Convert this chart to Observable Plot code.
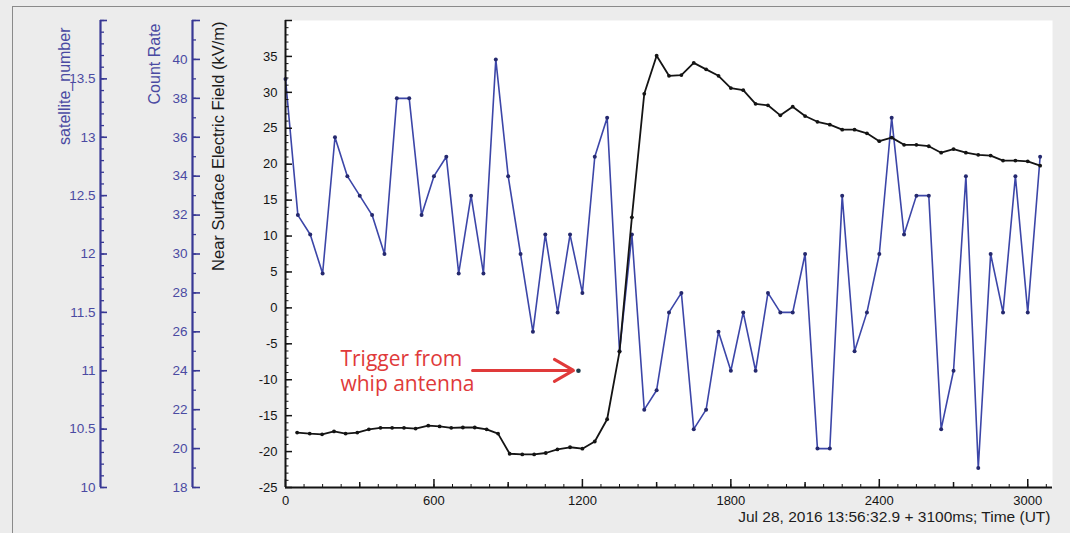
<!DOCTYPE html>
<html><head><meta charset="utf-8">
<script src="https://cdn.jsdelivr.net/npm/d3@7"></script>
<script src="https://cdn.jsdelivr.net/npm/@observablehq/plot@0.6"></script>
<style>
html,body{margin:0;padding:0;background:#ececec;}
#fig{position:relative;width:1070px;height:533px;background:#ececec;overflow:hidden;}
#fig svg{position:absolute;left:0;top:0;}
#border{position:absolute;left:12px;top:6px;width:1070px;height:540px;border-left:1px solid #8a8a8a;border-top:1px solid #8a8a8a;}
</style></head><body><div id="fig"><div id="border"></div></div>
<script>
// ---- data ----
const blueTime = [0,50,100,150,200,250,300,350,400,450,500,550,600,650,700,750,800,850,900,950,
  1000,1050,1100,1150,1200,1250,1300,1350,1400,1450,1500,1550,1600,1650,1700,1750,1800,1850,1900,1950,
  2000,2050,2100,2150,2200,2250,2300,2350,2400,2450,2500,2550,2600,2650,2700,2750,2800,2850,2900,2950,3000,3050];
const blueCount = [39,32,31,29,36,34,33,32,30,38,38,32,34,35,29,33,29,40,34,30,
  26,31,27,31,28,35,37,25,31,22,23,27,28,21,22,26,24,27,24,28,
  27,27,30,20,20,33,25,27,30,37,31,33,33,21,24,34,19,30,27,34,27,35];
const blackTime = [47,98,148,196,243,290,337,384,431,479,526,577,623,670,717,765,813,859,906,957,1005,1052,1099,
  1150,1200,1250,1300,1350,1400,1450,1500,1550,1600,1650,1700,1750,1800,1850,1900,1950,
  2000,2050,2100,2150,2200,2250,2300,2350,2400,2450,2500,2550,2600,2650,2700,2750,2800,2850,2900,2950,3000,3050];
const blackField = [-17.35,-17.5,-17.6,-17.2,-17.5,-17.35,-16.9,-16.7,-16.7,-16.7,-16.8,-16.4,-16.5,-16.7,-16.65,-16.65,-16.9,-17.5,-20.3,-20.4,-20.4,-20.2,-19.7,
  -19.4,-19.6,-18.6,-15.5,-6.1,12.6,29.8,35.1,32.3,32.4,34.1,33.2,32.3,30.6,30.3,28.4,28.2,
  26.8,28.0,26.7,25.9,25.5,24.8,24.8,24.3,23.2,23.7,22.7,22.7,22.5,21.6,22.1,21.6,21.3,21.2,20.5,20.5,20.4,19.8];
const triggerTime = [1184];
const triggerCount = [24];

const xTickLabels = [0,600,1200,1800,2400,3000];
const xMidTicks = [300,900,1500,2100,2700];
const fieldTickLabels = [-25,-20,-15,-10,-5,0,5,10,15,20,25,30,35];
const countTickLabels = [18,20,22,24,26,28,30,32,34,36,38,40];
const satTickLabels = [10,10.5,11,11.5,12,12.5,13,13.5];

const annotationLine1 = ["Trigger from"];
const annotationLine2 = ["whip antenna"];
const annotationTime = [222];
const annotationField1 = [-7.1];
const annotationField2 = [-10.7];
const arrowStart = [756];
const arrowEnd = [1164];
const arrowField = [-8.7];

const xTitle = "Jul 28, 2016 13:56:32.9 + 3100ms; Time (UT)";
const fieldTitle = "Near Surface Electric Field (kV/m)";
const countTitle = "Count Rate";
const satTitle = "satellite_number";

// ---- layout ----
const W = 1070, H = 533, L = 285, R = 1052, T = 20, B = 487;
const FW = R - L, FH = B - T;
const timeDomain = [0, 3100], fieldDomain = [-25, 40], countDomain = [18, 42], satDomain = [10, 14];
const AX = "#383894", AXT = "#4a4aa2", BLUE = "#3c46a8", BLUE_DOT = "#25296e", INK = "#141414", RED = "#e03a3a";
const fmt = d => String(d);

function layer(marginLeft, opts) {
  return Plot.plot({
    width: W, height: H, marginLeft, marginRight: W - R, marginTop: T, marginBottom: H - B,
    style: {background: "transparent", fontFamily: "'Liberation Sans', Arial, sans-serif", fontSize: "13px", overflow: "visible"},
    ...opts
  });
}

const blue = blueTime.map((t, i) => ({t, c: blueCount[i]}));
const black = blackTime.map((t, i) => ({t, e: blackField[i]}));
const trigger = triggerTime.map((t, i) => ({t, c: triggerCount[i]}));
const annotation = annotationLine1.map((s, i) => ({s, t: annotationTime[i], e: annotationField1[i]}))
  .concat(annotationLine2.map((s, i) => ({s, t: annotationTime[i], e: annotationField2[i]})));
const arrows = arrowStart.map((t1, i) => ({t1, t2: arrowEnd[i], e: arrowField[i]}));

const fig = document.getElementById("fig");

// count-rate data layer (bottom, with white plot area)
fig.appendChild(layer(L, {
  x: {domain: timeDomain, axis: null},
  y: {domain: countDomain, axis: null},
  marks: [
    Plot.frame({fill: "white", stroke: "none"}),
    Plot.line(blue, {x: "t", y: "c", stroke: BLUE, strokeWidth: 1.6}),
    Plot.dot(blue, {x: "t", y: "c", r: 2, fill: BLUE_DOT}),
    Plot.dot(trigger, {x: "t", y: "c", r: 2.3, fill: "#1e3c4c"})
  ]
}));

// electric field layer with axes
const fieldMajor = fieldTickLabels.concat([40]);
fig.appendChild(layer(L, {
  x: {domain: timeDomain},
  y: {domain: fieldDomain},
  marks: [
    Plot.tickY(d3.range(-25, 41, 1), {stroke: INK, insetRight: FW - 3.5}),
    Plot.tickY(fieldMajor, {stroke: INK, strokeWidth: 1.5, insetRight: FW - 7}),
    Plot.tickX(d3.range(75, 3100, 75), {stroke: INK, insetTop: FH - 3}),
    Plot.tickX(xMidTicks, {stroke: INK, strokeWidth: 1.5, insetTop: FH - 5}),
    Plot.tickX(xTickLabels, {stroke: INK, strokeWidth: 1.5, insetTop: FH - 8}),
    Plot.ruleX([0], {stroke: INK, strokeWidth: 2}),
    Plot.ruleY([-25], {stroke: INK, strokeWidth: 2}),
    Plot.axisY({ticks: fieldTickLabels, tickSize: 0, tickPadding: 8, tickFormat: fmt, label: null, fill: INK}),
    Plot.axisX({ticks: xTickLabels, tickSize: 0, tickPadding: 8, tickFormat: fmt, label: null, fill: INK}),
    Plot.line(black, {x: "t", y: "e", stroke: INK, strokeWidth: 1.8}),
    Plot.dot(black, {x: "t", y: "e", r: 1.9, fill: INK}),
    Plot.arrow(arrows, {x1: "t1", x2: "t2", y1: "e", y2: "e", stroke: RED, strokeWidth: 3, headLength: 11}),
    Plot.text(annotation, {x: "t", y: "e", text: "s", textAnchor: "start", lineAnchor: "middle",
      fontSize: 21, fontFamily: "'Open Sans', sans-serif", fill: RED}),
    Plot.text([fieldTitle], {frameAnchor: "top-left", rotate: -90, textAnchor: "end", dx: -73, dy: 1, fontSize: 16.5, fill: "#1c1c1c"}),
    Plot.text([xTitle], {frameAnchor: "bottom-right", textAnchor: "end", dx: -2, dy: 34, fontSize: 15.5, fill: "#1c1c1c"})
  ]
}));

// count-rate axis
const countMajor = countTickLabels.concat([42]);
fig.appendChild(layer(192, {
  x: {domain: [0, 1], axis: null},
  y: {domain: countDomain},
  marks: [
    Plot.tickY(d3.range(18, 43, 1), {stroke: AX, strokeWidth: 1.3, insetRight: (R - 192) - 4}),
    Plot.tickY(countMajor, {stroke: AX, strokeWidth: 1.6, insetRight: (R - 192) - 8}),
    Plot.ruleX([0], {stroke: AX, strokeWidth: 2.2}),
    Plot.axisY({ticks: countTickLabels, tickSize: 0, tickPadding: 5, tickFormat: fmt, label: null, fill: AXT, fontSize: 13.5}),
    Plot.text([countTitle], {frameAnchor: "top-left", rotate: -90, textAnchor: "end", dx: -44, dy: 3, fontSize: 16, fill: AXT})
  ]
}));

// satellite_number axis
const satMajor = satTickLabels.concat([14]);
fig.appendChild(layer(100, {
  x: {domain: [0, 1], axis: null},
  y: {domain: satDomain},
  marks: [
    Plot.tickY(d3.range(100, 141, 1).map(v => v / 10), {stroke: AX, strokeWidth: 1.3, insetRight: (R - 100) - 4}),
    Plot.tickY(satMajor, {stroke: AX, strokeWidth: 1.6, insetRight: (R - 100) - 7}),
    Plot.ruleX([0], {stroke: AX, strokeWidth: 2.2}),
    Plot.axisY({ticks: satTickLabels, tickSize: 0, tickPadding: 5, tickFormat: fmt, label: null, fill: AXT, fontSize: 13.5}),
    Plot.text([satTitle], {frameAnchor: "top-left", rotate: -90, textAnchor: "end", dx: -42, dy: 7, fontSize: 16, fill: AXT})
  ]
}));
</script></body></html>
